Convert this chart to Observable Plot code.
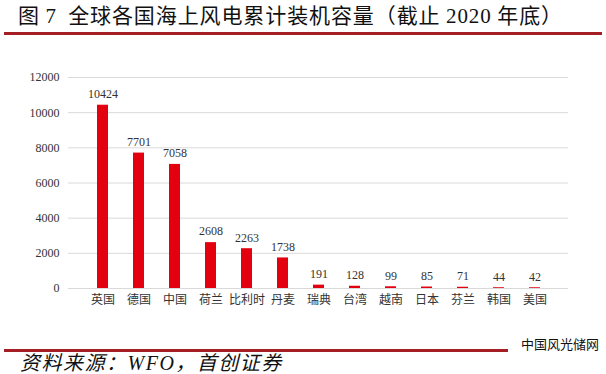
<!DOCTYPE html>
<html>
<head>
<meta charset="utf-8">
<script src="https://cdn.jsdelivr.net/npm/d3@7"></script>
<script src="https://cdn.jsdelivr.net/npm/@observablehq/plot@0.6"></script>
<style>
  html, body { margin: 0; padding: 0; background: #fff; }
  #page { position: relative; width: 606px; height: 374px; overflow: hidden; background: #fff; }
  #title { position: absolute; left: 18px; top: 1px; line-height: 26px; font-family: "Noto Sans CJK SC", sans-serif; font-size: 21px; font-weight: 400; letter-spacing: 0.9px; color: #111; white-space: nowrap; }
  #title .num { font-family: "Liberation Serif", serif; font-size: 21px; }
  #topline { position: absolute; left: 4px; top: 32px; width: 598px; height: 3px; background: #A31F24; }
  #chart { position: absolute; left: 0; top: 40px; }
  #unit { position: absolute; left: 41px; top: 52px; font-family: "Liberation Serif", serif; font-size: 8px; color: #333; }
  #botline { position: absolute; left: 4px; top: 349px; width: 504px; height: 3px; background: #A31F24; }
  #source { position: absolute; left: 20px; top: 352px; line-height: 22px; font-family: "Liberation Serif", "Noto Sans CJK SC", serif; font-size: 20px; font-style: italic; letter-spacing: 1.5px; color: #111; white-space: nowrap; }
  #watermark { position: absolute; left: 521px; top: 334px; font-family: "Noto Sans CJK SC", sans-serif; font-size: 13px; color: #111; white-space: nowrap; }
</style>
</head>
<body>
<div id="page">
  <div id="title">图 <span class="num">7</span>&nbsp; 全球各国海上风电累计装机容量（截止 <span class="num">2020</span> 年底）</div>
  <div id="topline"></div>
  <div id="unit">MW</div>
  <div id="chart"></div>
  <div id="watermark">中国风光储网</div>
  <div id="botline"></div>
  <div id="source">资料来源：WFO，首创证券</div>
</div>
<script>
const countries = ["英国","德国","中国","荷兰","比利时","丹麦","瑞典","台湾","越南","日本","芬兰","韩国","美国"];
const capacity = [10424, 7701, 7058, 2608, 2263, 1738, 191, 128, 99, 85, 71, 44, 42];
const yTicks = [0, 2000, 4000, 6000, 8000, 10000, 12000];

const data = countries.map((c, i) => ({country: c, value: capacity[i]}));

const chart = Plot.plot({
  width: 606,
  height: 275,
  marginTop: 37,
  marginBottom: 27,
  marginLeft: 68,
  marginRight: 38,
  style: { fontFamily: "'Liberation Serif', 'Noto Sans CJK SC', serif", fontSize: "12px", color: "#333", background: "#fff" },
  x: { domain: countries, padding: 0.7, label: null },
  y: { domain: [0, 12000], label: null },
  marks: [
    Plot.ruleY(yTicks, { stroke: "#d9d9d9", strokeWidth: 1 }),
    Plot.axisY({ ticks: yTicks, tickSize: 0, tickPadding: 9, tickFormat: d => String(d), fontSize: 12, fill: "#333" }),
    Plot.axisX({ tickSize: 0, tickPadding: 7, fontSize: 12, fontFamily: "'Noto Sans CJK SC', sans-serif", fill: "#333" }),
    Plot.barY(data, { x: "country", y: "value", fill: "#E3000F" }),
    Plot.text(data, { x: "country", y: "value", text: d => String(d.value), dy: -11, fontSize: 12, fill: "#333" })
  ]
});
document.getElementById("chart").appendChild(chart);
</script>
</body>
</html>
